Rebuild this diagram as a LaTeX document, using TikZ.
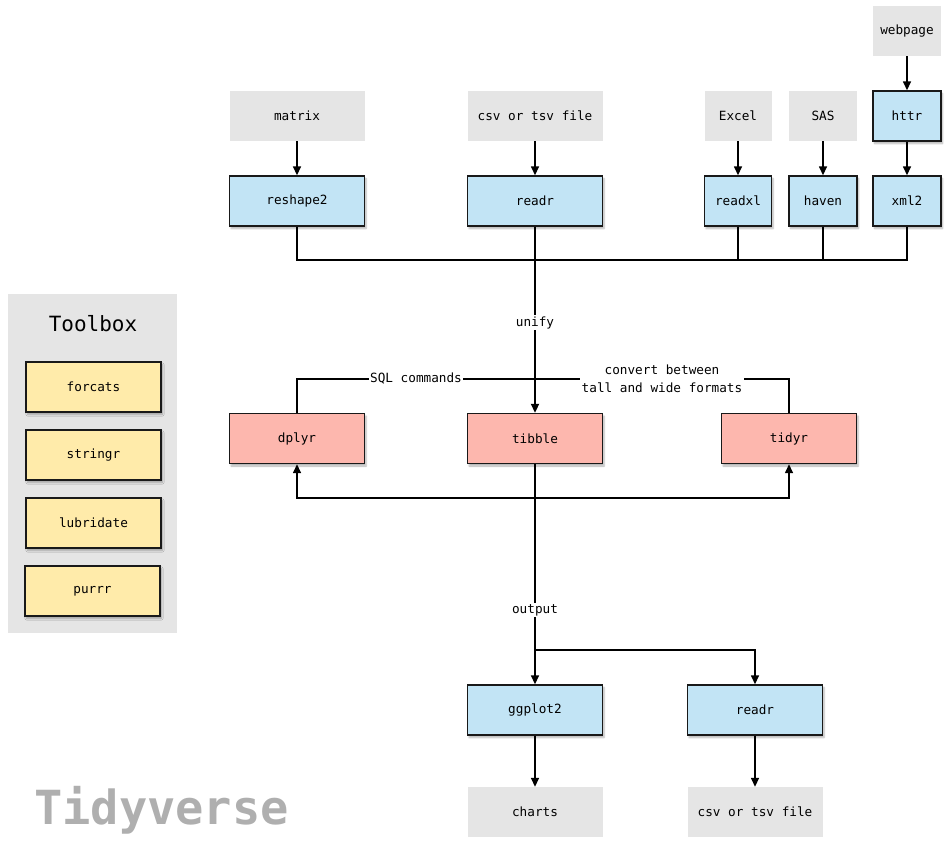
\documentclass[tikz,border=0pt]{standalone}
\usepackage{fontspec}
\setmonofont{DejaVu Sans Mono}
\usetikzlibrary{arrows.meta,shadows.blur}
\definecolor{boxblue}{RGB}{194,228,245}
\definecolor{boxpink}{RGB}{253,183,174}
\definecolor{boxyellow}{RGB}{255,235,170}
\definecolor{boxgray}{RGB}{229,229,229}
\definecolor{titlegray}{RGB}{175,175,175}
\tikzset{
  base/.style={minimum height=50pt, inner sep=0pt, font=\ttfamily\fontsize{12.7}{15}\selectfont, text=black},
  src/.style={base, fill=boxgray},
  pkg/.style={base, draw=black!90, line width=1.4pt, blur shadow={shadow xshift=1.5pt, shadow yshift=-2.5pt, shadow blur steps=6, shadow opacity=30}},
  bluebox/.style={pkg, fill=boxblue},
  pinkbox/.style={pkg, fill=boxpink},
  yellowbox/.style={pkg, fill=boxyellow},
  conn/.style={line width=1.5pt, draw=black},
  arr/.style={conn, -{Triangle[length=9pt,width=8pt]}},
  lbl/.style={fill=white, inner sep=1.5pt, font=\ttfamily\fontsize{12.7}{18}\selectfont, align=center},
}
\begin{document}
\begin{tikzpicture}[x=1pt,y=-1pt]
\useasboundingbox (0,0) rectangle (949,855);
% Toolbox
\node[fill=boxgray, minimum width=169pt, minimum height=339pt, inner sep=0pt] (toolbox) at (92.5,463.5) {};
\node[font=\ttfamily\fontsize{21}{24}\selectfont] (tbtitle) at (93,324) {Toolbox};
\node[yellowbox, minimum width=135pt] (forcats) at (93.5,387) {forcats};
\node[yellowbox, minimum width=135pt] (stringr) at (93.5,455) {stringr};
\node[yellowbox, minimum width=135pt] (lubridate) at (93.5,523) {lubridate};
\node[yellowbox, minimum width=135pt] (purrr) at (92.5,591) {purrr};
\node[font=\ttfamily\bfseries\fontsize{47}{50}\selectfont, text=titlegray] (title) at (161.5,810) {Tidyverse};
% sources
\node[src, minimum width=135pt] (matrix) at (297,116) {matrix};
\node[src, minimum width=135pt] (csv) at (535,116) {csv or tsv file};
\node[src, minimum width=67pt] (excel) at (738,116) {Excel};
\node[src, minimum width=68pt] (sas) at (823,116) {SAS};
\node[src, minimum width=68pt] (webpage) at (907,31) {webpage};
% readers
\node[bluebox, minimum width=68pt] (httr) at (907,116) {httr};
\node[bluebox, minimum width=135pt] (reshape2) at (297,201) {reshape2};
\node[bluebox, minimum width=135pt] (readr) at (535,201) {readr};
\node[bluebox, minimum width=67pt] (readxl) at (738,201) {readxl};
\node[bluebox, minimum width=68pt] (haven) at (823,201) {haven};
\node[bluebox, minimum width=68pt] (xml2) at (907,201) {xml2};
% core
\node[pinkbox, minimum width=135pt] (dplyr) at (297,438.5) {dplyr};
\node[pinkbox, minimum width=135pt] (tibble) at (535,438.5) {tibble};
\node[pinkbox, minimum width=135pt] (tidyr) at (789,438.5) {tidyr};
% outputs
\node[bluebox, minimum width=135pt] (ggplot2) at (535,710) {ggplot2};
\node[bluebox, minimum width=135pt] (readr2) at (755,710) {readr};
\node[src, minimum width=135pt] (charts) at (535,812) {charts};
\node[src, minimum width=135pt] (csv2) at (755,812) {csv or tsv file};
% junction coordinates
\coordinate (bus) at (535,260);
\coordinate (top) at (535,379);
\coordinate (split) at (535,498);
\coordinate (fork) at (535,650);
\coordinate (forkr) at (755,650);
% source arrows
\draw[arr] (matrix) -- (reshape2);
\draw[arr] (csv) -- (readr);
\draw[arr] (excel) -- (readxl);
\draw[arr] (sas) -- (haven);
\draw[arr] (webpage) -- (httr);
\draw[arr] (httr) -- (xml2);
% bus
\draw[conn] (reshape2.south) |- (bus);
\draw[conn] (readxl.south) |- (bus);
\draw[conn] (haven.south) |- (bus);
\draw[conn] (xml2.south) |- (bus);
% unify
\draw[arr, line width=1.9pt] (readr) -- node[lbl, pos=0.515] {unify} (tibble);
% SQL commands and convert
\draw[conn] (dplyr.north) |- node[lbl, pos=0.75] {SQL commands} (top);
\draw[conn] (tidyr.north) |- node[lbl, pos=0.75] {convert between\\tall and wide formats} (top);
% tibble to dplyr/tidyr
\draw[conn] (tibble.south) -- (split);
\draw[arr] (split) -| (dplyr.south);
\draw[arr] (split) -| (tidyr.south);
% output
\draw[conn] (tibble.south) -- node[lbl, pos=0.785] {output} (fork);
\draw[arr] (fork) -- (ggplot2);
\draw[arr] (fork) -- (forkr) -- (readr2.north);
\draw[arr] (ggplot2) -- (charts);
\draw[arr] (readr2) -- (csv2);
\end{tikzpicture}
\end{document}
